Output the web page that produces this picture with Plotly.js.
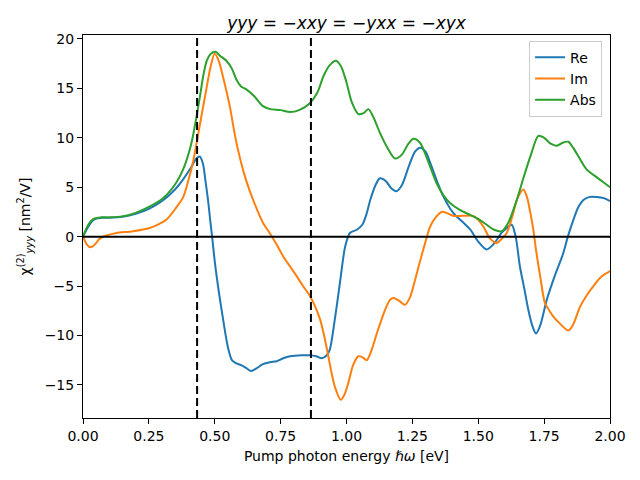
<!DOCTYPE html>
<html>
<head>
<meta charset="utf-8">
<script src="https://cdn.plot.ly/plotly-3.0.1.min.js"></script>
<style>html,body{margin:0;padding:0;background:#fff;}#chart{width:640px;height:480px;}</style>
</head>
<body>
<div id="chart"></div>
<script>
// Re
const reX = [0,0.02,0.04,0.07,0.1,0.15,0.2,0.25,0.3,0.35,0.38,0.41,0.43,0.443,0.455,0.465,0.475,0.483,0.49,0.5,0.515,0.53,0.55,0.565,0.58,0.6,0.62,0.638,0.66,0.683,0.71,0.735,0.76,0.786,0.83,0.861,0.885,0.906,0.925,0.937,0.955,0.975,0.995,1.013,1.039,1.06,1.075,1.09,1.11,1.127,1.15,1.17,1.19,1.21,1.235,1.26,1.28,1.3,1.32,1.345,1.367,1.405,1.44,1.47,1.5,1.532,1.56,1.589,1.61,1.627,1.642,1.658,1.675,1.69,1.705,1.719,1.735,1.76,1.79,1.823,1.84,1.861,1.88,1.899,1.92,1.95,1.975,2.0];
const reY = [0,1.0,1.7,1.9,1.9,2.0,2.3,2.8,3.6,4.8,5.8,7.0,7.9,8.1,7.4,5.6,3.6,1.6,0,-2.5,-5.5,-8.1,-11.2,-12.5,-12.8,-13.0,-13.3,-13.6,-13.3,-12.9,-12.7,-12.6,-12.3,-12.1,-12.0,-12.0,-12.1,-12.3,-12.0,-11.4,-8.5,-4.7,-1.0,0.37,0.7,1.2,2.2,3.7,5.2,5.9,5.6,4.9,4.6,5.2,7.0,8.6,9.0,8.6,7.3,5.5,4.1,2.4,1.5,0.7,-0.5,-1.3,-0.7,0.4,0.9,1.2,0,-3.0,-5.3,-7.4,-9.0,-9.8,-9.0,-6.4,-4.0,-1.65,0,1.7,3.0,3.7,4.0,4.0,3.9,3.6];
// Im
const imX = [0,0.015,0.028,0.045,0.06,0.076,0.1,0.127,0.19,0.253,0.29,0.316,0.35,0.38,0.4,0.417,0.436,0.45,0.468,0.485,0.5,0.515,0.531,0.557,0.575,0.588,0.61,0.633,0.658,0.683,0.71,0.735,0.76,0.785,0.811,0.835,0.861,0.88,0.9,0.915,0.931,0.945,0.956,0.978,0.992,1.007,1.025,1.045,1.06,1.077,1.095,1.115,1.145,1.165,1.178,1.2,1.222,1.24,1.254,1.279,1.3,1.317,1.34,1.361,1.38,1.405,1.44,1.481,1.5,1.52,1.545,1.57,1.59,1.608,1.62,1.633,1.648,1.671,1.685,1.697,1.709,1.72,1.735,1.753,1.77,1.785,1.81,1.842,1.86,1.886,1.91,1.937,1.965,2.0];
const imY = [0,-0.8,-1.08,-0.8,-0.3,0,0.2,0.37,0.55,0.88,1.3,1.7,2.8,4.0,5.7,7.5,10.2,12.3,14.9,17.3,18.5,17.8,16.2,13.2,10.5,8.8,6.5,4.6,2.9,1.4,0.3,-0.8,-2.0,-3.0,-4.0,-5.0,-6.0,-7.0,-8.4,-10.0,-12.1,-14.0,-15.2,-16.5,-16.0,-14.8,-13.0,-12.1,-12.2,-12.5,-11.5,-9.8,-7.5,-6.4,-6.2,-6.5,-6.9,-6.2,-5.0,-2.5,-0.5,1.0,2.0,2.5,2.4,2.1,2.1,2.1,1.7,1.0,-0.2,-0.64,-0.2,0.37,1.2,2.4,3.8,4.76,4.0,2.5,0.7,-1.5,-4.0,-6.7,-7.5,-8.1,-8.8,-9.5,-8.9,-7.1,-6.0,-5.0,-4.1,-3.5];
// Abs
const absX = [0,0.02,0.04,0.07,0.1,0.15,0.2,0.25,0.3,0.35,0.38,0.41,0.43,0.445,0.458,0.47,0.485,0.503,0.52,0.544,0.565,0.582,0.6,0.62,0.65,0.683,0.71,0.75,0.786,0.82,0.861,0.89,0.912,0.935,0.96,0.98,1.0,1.02,1.045,1.065,1.083,1.1,1.127,1.155,1.184,1.21,1.235,1.254,1.279,1.31,1.342,1.37,1.393,1.43,1.469,1.5,1.532,1.56,1.589,1.614,1.646,1.67,1.7,1.728,1.75,1.775,1.798,1.82,1.842,1.86,1.885,1.911,1.95,1.975,2.0];
const absY = [0,1.2,1.8,1.95,1.95,2.05,2.4,3.0,3.8,5.3,6.8,9.3,12.0,14.4,16.5,17.8,18.5,18.7,18.3,17.8,17.0,15.9,15.2,14.9,14.2,13.2,12.9,12.8,12.6,12.8,13.5,14.6,16.2,17.3,17.8,17.2,15.6,13.6,12.4,12.5,12.9,12.2,10.5,9.0,7.9,8.3,9.4,9.9,9.5,7.6,5.4,4.1,3.4,2.7,2.2,1.8,1.2,0.7,0.54,1.4,3.7,5.8,8.3,10.2,10.0,9.4,9.2,9.5,9.6,9.0,7.9,6.8,6.0,5.5,5.0];
// reference lines
const zeroLine = [0];
const vLines = [0.433, 0.865];
const xTicks = [0,0.25,0.5,0.75,1.0,1.25,1.5,1.75,2.0];
const yTicks = [-15,-10,-5,0,5,10,15,20];

const font = 'DejaVu Sans, sans-serif';
const mk = (x, y, name, color) => ({x, y, name, type: 'scatter', mode: 'lines',
  line: {color, width: 2, shape: 'spline', smoothing: 0.8}});
const traces = [
  mk(reX, reY, 'Re', '#1f77b4'),
  mk(imX, imY, 'Im', '#ff7f0e'),
  mk(absX, absY, 'Abs', '#2ca02c')
];
const shapes = [];
zeroLine.forEach(v => shapes.push({type:'line', xref:'paper', yref:'y', x0:0, x1:1, y0:v, y1:v, line:{color:'black', width:2}, layer:'above'}));
vLines.forEach(v => shapes.push({type:'line', xref:'x', yref:'paper', x0:v, x1:v, y0:0, y1:1, line:{color:'black', width:2, dash:'8px,4px'}, layer:'above'}));

const axisCommon = {showline:true, mirror:true, linecolor:'black', linewidth:1, ticks:'outside', ticklen:5, tickwidth:1, tickcolor:'black', showgrid:false, zeroline:false, tickfont:{family:font, size:14, color:'black'}};
const layout = {
  width:640, height:480,
  margin:{l:83, r:30, t:35, b:62},
  paper_bgcolor:'white', plot_bgcolor:'white',
  font:{family:font, color:'black'},
  title:{text:'<i>yyy</i> = −<i>xxy</i> = −<i>yxx</i> = −<i>xyx</i>', font:{family:font, size:17, color:'black'}, x:0.5, xref:'paper', y:1, yref:'paper', yanchor:'bottom', pad:{b:6}},
  xaxis:Object.assign({}, axisCommon, {range:[0,2], tickvals:xTicks, tickformat:'.2f',
    title:{text:'Pump photon energy <i>ℏω</i> [eV]', font:{family:font, size:14, color:'black'}, standoff:8}}),
  yaxis:Object.assign({}, axisCommon, {range:[-18.35,20.4], tickvals:yTicks,
    title:{text:'χ<sup>(2)</sup><sub><i>yyy</i></sub> [nm<sup>2</sup>/V]', font:{family:font, size:14, color:'black'}, standoff:10}}),
  showlegend:true,
  legend:{x:0.985, y:0.985, xanchor:'right', yanchor:'top', bgcolor:'rgba(255,255,255,0.8)', bordercolor:'#cccccc', borderwidth:1, font:{family:font, size:14, color:'black'}, itemwidth:30, tracegroupgap:0},
  shapes
};
Plotly.newPlot('chart', traces, layout, {staticPlot:true, displayModeBar:false});
</script>
</body>
</html>
